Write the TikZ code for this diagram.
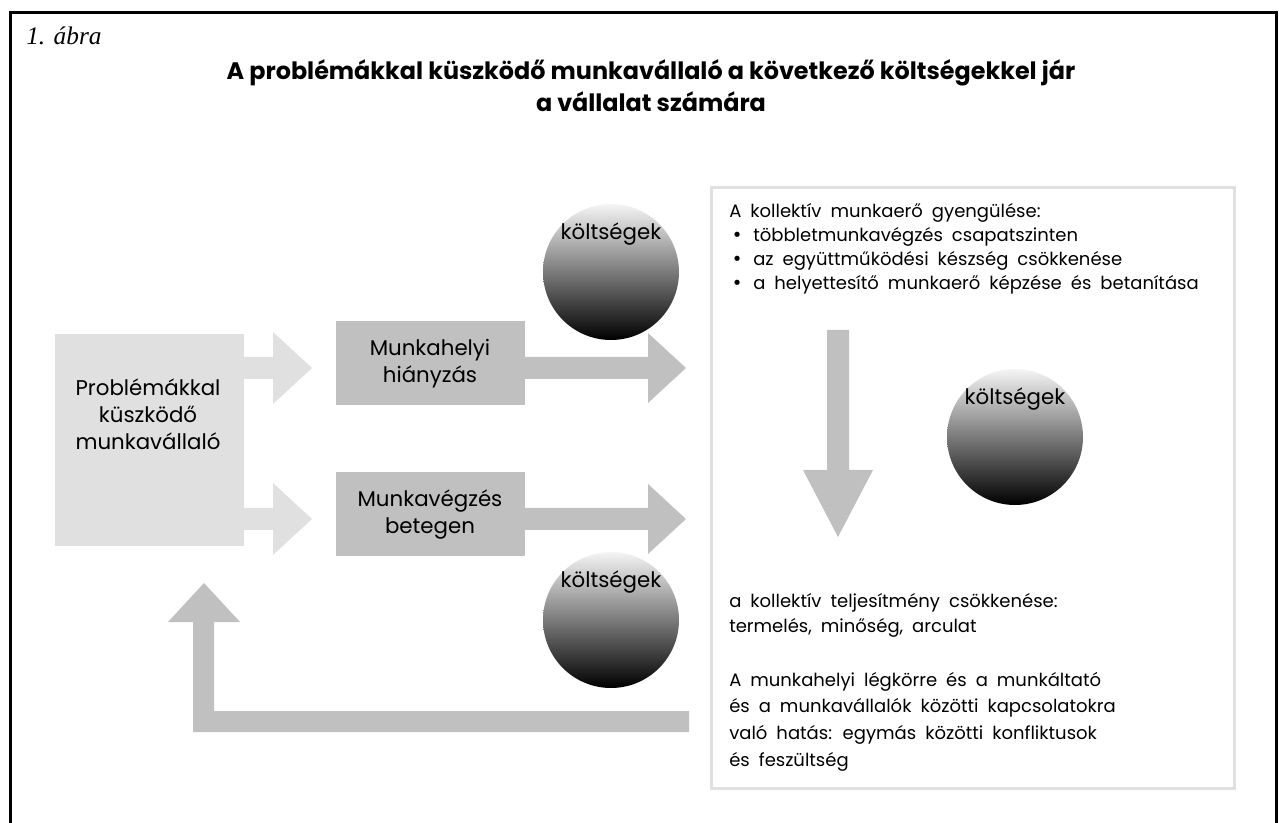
\documentclass[tikz,border=0pt]{standalone}
\usepackage{fontspec}
\setmainfont{Poppins}
\newfontfamily\captfont{Liberation Serif}
\newfontfamily\bulletfont{DejaVu Sans}
\usetikzlibrary{calc}
\definecolor{lightg}{HTML}{E0E0E0}
\definecolor{midg}{HTML}{C0C0C0}
\newcommand\widespaces{\spaceskip=0.5em plus 0.1em\relax}
\newcommand\bul{\makebox[18pt][l]{\hspace{2pt}{\bulletfont •}}}
\begin{document}
\begin{tikzpicture}[x=0.75pt,y=-0.75pt,
  boxtext/.style={font=\fontsize{16}{20.25}\selectfont, inner sep=0pt, anchor=base},
  costlabel/.style={font=\fontsize{16}{20}\selectfont, inner sep=0pt, anchor=base},
  sphere/.style={circle, minimum size=102pt, inner sep=0pt, top color=black!4, bottom color=black},
  midbox/.style={fill=midg, minimum width=141.75pt, minimum height=63pt, inner sep=0pt},
  bodytext/.style={inner sep=0pt, anchor=base west}
]
\useasboundingbox (0,0) rectangle (1279,823);
% outer frame
\draw[line width=2.25pt] (10,823) -- (10,13) -- (1276,13) -- (1276,823);
% caption and title
\node[anchor=base west, inner sep=0pt, font=\captfont\itshape\fontsize{19}{22}\selectfont] (cap) at (26,45) {1. ábra};
\node[anchor=base, inner sep=0pt, font=\bfseries\fontsize{17.9}{24}\selectfont] (title) at (651,80)
  {\parbox[t]{800pt}{\centering A problémákkal küszködő munkavállaló a következő költségekkel jár\\a vállalat számára}};
% left box
\node[fill=lightg, minimum width=141.75pt, minimum height=159pt, inner sep=0pt] (emp) at (149.5,440) {};
\node[boxtext] (empt) at (148,396) {\parbox[t]{200pt}{\centering Problémákkal\\küszködő\\munkavállaló}};
% light arrows from left box
\fill[lightg] (244,357) -- (273,357) -- (273,332) -- (312,368) -- (273,404) -- (273,379) -- (244,379) -- cycle;
\fill[lightg] (244,508) -- (273,508) -- (273,483) -- (312,519) -- (273,555) -- (273,530) -- (244,530) -- cycle;
% middle boxes
\node[midbox] (mb1) at (430.5,363) {};
\node[boxtext] (mb1t) at (430,356) {\parbox[t]{200pt}{\centering Munkahelyi\\hiányzás}};
\node[midbox] (mb2) at (430.5,514) {};
\node[boxtext] (mb2t) at (430,507) {\parbox[t]{200pt}{\centering Munkavégzés\\betegen}};
% medium arrows to right box
\fill[midg] (525,357) -- (648,357) -- (648,333) -- (686,368) -- (648,403) -- (648,379) -- (525,379) -- cycle;
\fill[midg] (525,508) -- (648,508) -- (648,484) -- (686,519) -- (648,554) -- (648,530) -- (525,530) -- cycle;
% right box
\node[draw=lightg, line width=2.25pt, minimum width=392.25pt, minimum height=450pt, inner sep=0pt] (rb) at (972.5,488) {};
\node[bodytext, font=\fontsize{13.5}{18}\selectfont] (rt1) at (729,218)
  {\parbox[t]{380pt}{\widespaces\raggedright A kollektív munkaerő gyengülése:\\
  \bul többletmunkavégzés csapatszinten\\
  \bul az együttműködési készség csökkenése\\
  \bul a helyettesítő munkaerő képzése és betanítása}};
\node[bodytext, font=\fontsize{13.5}{19.5}\selectfont] (rt2) at (729,607)
  {\parbox[t]{380pt}{\widespaces\raggedright a kollektív teljesítmény csökkenése:\\termelés, minőség, arculat}};
\node[bodytext, font=\fontsize{13.5}{20}\selectfont] (rt3) at (729,686)
  {\parbox[t]{380pt}{\widespaces\raggedright A munkahelyi légkörre és a munkáltató\\és a munkavállalók közötti kapcsolatokra\\való hatás: egymás közötti konfliktusok\\és feszültség}};
% down arrow inside right box
\fill[midg] (827,330) -- (849,330) -- (849,470) -- (873,470) -- (838,537) -- (803,470) -- (827,470) -- cycle;
% feedback arrow
\fill[midg] (689,711) -- (689,732) -- (193,732) -- (193,622) -- (168,622) -- (204,583) -- (240,622) -- (214,622) -- (214,711) -- cycle;
% cost spheres
\node[sphere] (c1) at (611,272) {};
\node[costlabel] (c1t) at ($(c1.north)+(0,36)$) {költségek};
\node[sphere] (c2) at (611,620) {};
\node[costlabel] (c2t) at ($(c2.north)+(0,36)$) {költségek};
\node[sphere] (c3) at (1015,437) {};
\node[costlabel] (c3t) at ($(c3.north)+(0,36)$) {költségek};
\end{tikzpicture}
\end{document}
